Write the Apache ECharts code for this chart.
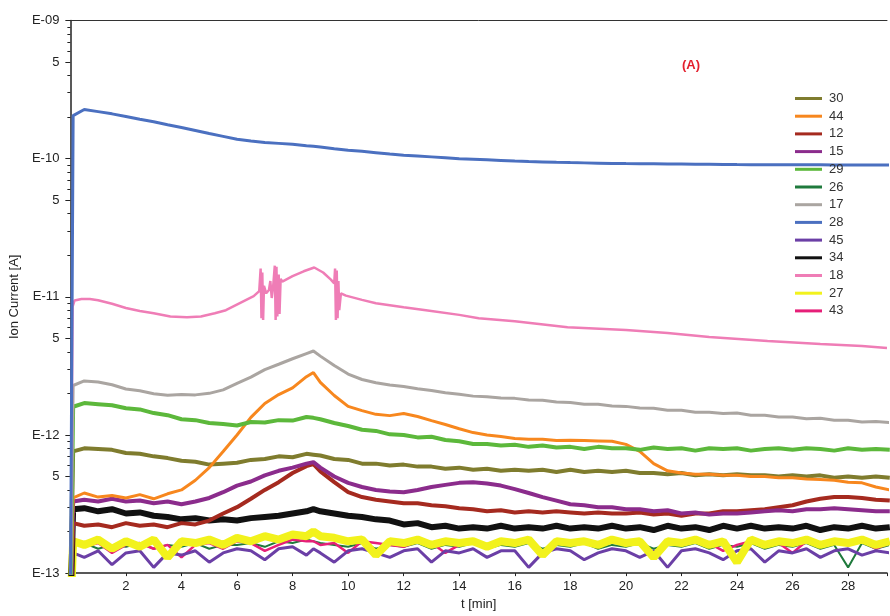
<!DOCTYPE html>
<html><head><meta charset="utf-8">
<script src="https://cdn.jsdelivr.net/npm/echarts@6/dist/echarts.min.js"></script>
<style>html,body{margin:0;padding:0;background:#fff}#c{width:890px;height:616px}</style>
</head><body><div id="c"></div>
<script>
// time grid [min]
const T = [0,0.1,0.5,1,1.5,2,2.5,3,3.5,4,
  4.5,5,5.5,6,6.5,7,7.5,8,8.5,8.75,
  9,9.5,10,10.5,11,11.5,12,12.5,13,13.5,
  14,14.5,15,15.5,16,16.5,17,17.5,18,18.5,
  19,19.5,20,20.5,21,21.5,22,22.5,23,23.5,
  24,24.5,25,25.5,26,26.5,27,27.5,28,28.5,
  29,29.5];
// ion currents in pA (1e-12 A)
const m28 = [0.05,205,227,219,211,202,193,185,176,168,
  160,152,145,138,134,131,129,127,124,123,
  121.5,118,115,113,110.5,108,106,104.5,103,101.5,
  100,99,98,97,96,95.3,94.7,94.1,93.6,93.2,
  92.8,92.4,92.1,91.9,91.7,91.5,91.3,91.1,91,90.8,
  90.6,90.5,90.5,90.4,90.4,90.3,90.2,90.1,90,90,
  89.9,89.8];
const m17 = [0.05,2.28,2.46,2.42,2.31,2.15,2.09,1.99,1.94,1.96,
  1.95,2.0,2.12,2.36,2.62,2.97,3.25,3.56,3.88,4.05,
  3.72,3.18,2.76,2.52,2.39,2.30,2.24,2.16,2.10,2.02,
  1.97,1.91,1.89,1.85,1.84,1.79,1.78,1.73,1.72,1.67,
  1.67,1.62,1.61,1.57,1.56,1.51,1.51,1.46,1.46,1.43,
  1.44,1.39,1.39,1.35,1.35,1.31,1.32,1.28,1.28,1.24,
  1.25,1.23];
const m29 = [0.05,1.60,1.70,1.67,1.64,1.56,1.53,1.44,1.39,1.30,
  1.28,1.22,1.20,1.17,1.24,1.23,1.28,1.27,1.35,1.33,
  1.30,1.22,1.16,1.09,1.07,1.01,1.0,0.96,0.97,0.92,
  0.90,0.86,0.86,0.84,0.85,0.82,0.84,0.81,0.82,0.79,
  0.82,0.80,0.80,0.78,0.81,0.79,0.80,0.77,0.80,0.79,
  0.80,0.77,0.79,0.80,0.78,0.80,0.79,0.77,0.80,0.78,
  0.79,0.78];
const m30 = [0.05,0.76,0.80,0.79,0.78,0.74,0.73,0.70,0.68,0.65,
  0.64,0.61,0.62,0.63,0.66,0.67,0.70,0.69,0.73,0.72,
  0.71,0.67,0.66,0.62,0.62,0.60,0.61,0.59,0.59,0.57,
  0.58,0.56,0.57,0.55,0.56,0.55,0.56,0.54,0.56,0.54,
  0.55,0.54,0.55,0.53,0.53,0.52,0.53,0.51,0.52,0.51,
  0.52,0.51,0.51,0.50,0.51,0.50,0.51,0.49,0.50,0.49,
  0.50,0.49];
const m44 = [0.05,0.35,0.38,0.355,0.365,0.35,0.37,0.345,0.375,0.40,
  0.47,0.58,0.76,1.0,1.34,1.69,1.96,2.19,2.64,2.83,
  2.40,1.93,1.61,1.50,1.41,1.38,1.43,1.36,1.27,1.19,
  1.11,1.04,1.0,0.975,0.944,0.93,0.93,0.91,0.915,0.91,
  0.905,0.90,0.855,0.76,0.62,0.55,0.53,0.52,0.52,0.51,
  0.51,0.50,0.50,0.49,0.49,0.48,0.475,0.47,0.455,0.45,
  0.42,0.40];
const m15 = [0.05,0.33,0.34,0.33,0.345,0.33,0.335,0.32,0.33,0.315,
  0.33,0.35,0.385,0.43,0.46,0.51,0.55,0.58,0.62,0.635,
  0.58,0.50,0.45,0.42,0.40,0.39,0.385,0.40,0.42,0.435,
  0.45,0.455,0.445,0.43,0.405,0.38,0.355,0.335,0.315,0.31,
  0.30,0.30,0.29,0.29,0.28,0.285,0.27,0.275,0.265,0.27,
  0.27,0.275,0.28,0.285,0.28,0.29,0.29,0.295,0.29,0.285,
  0.28,0.28];
const m12 = [0.05,0.23,0.22,0.225,0.215,0.23,0.22,0.225,0.215,0.23,
  0.225,0.24,0.27,0.30,0.345,0.40,0.455,0.53,0.595,0.615,
  0.545,0.455,0.385,0.355,0.34,0.33,0.32,0.32,0.31,0.305,
  0.295,0.29,0.28,0.285,0.275,0.28,0.275,0.28,0.275,0.27,
  0.275,0.27,0.27,0.275,0.265,0.27,0.26,0.27,0.27,0.28,
  0.28,0.285,0.29,0.30,0.31,0.33,0.345,0.355,0.355,0.35,
  0.34,0.335];
const m34 = [0.05,0.29,0.295,0.28,0.29,0.27,0.275,0.26,0.255,0.245,
  0.25,0.24,0.245,0.24,0.25,0.255,0.26,0.27,0.28,0.29,
  0.28,0.27,0.26,0.255,0.245,0.24,0.225,0.23,0.215,0.22,
  0.21,0.215,0.21,0.22,0.21,0.215,0.21,0.22,0.21,0.215,
  0.21,0.22,0.21,0.215,0.205,0.22,0.21,0.215,0.205,0.22,
  0.21,0.22,0.21,0.215,0.21,0.22,0.205,0.215,0.21,0.22,
  0.21,0.215];
const m27 = [0.05,0.17,0.16,0.175,0.15,0.17,0.155,0.175,0.13,0.17,
  0.165,0.175,0.16,0.18,0.17,0.185,0.175,0.19,0.185,0.20,
  0.185,0.18,0.17,0.175,0.135,0.17,0.165,0.175,0.16,0.17,
  0.165,0.17,0.155,0.17,0.165,0.175,0.135,0.17,0.165,0.17,
  0.16,0.175,0.165,0.17,0.13,0.17,0.165,0.175,0.16,0.17,
  0.12,0.175,0.16,0.17,0.165,0.175,0.16,0.17,0.165,0.175,
  0.16,0.17];
const m45 = [0.05,0.14,0.13,0.145,0.115,0.14,0.145,0.11,0.14,0.135,
  0.145,0.12,0.14,0.15,0.145,0.125,0.15,0.155,0.135,0.15,
  0.14,0.12,0.145,0.15,0.14,0.13,0.145,0.15,0.12,0.145,
  0.14,0.15,0.13,0.145,0.145,0.11,0.14,0.15,0.145,0.125,
  0.14,0.15,0.145,0.13,0.145,0.11,0.145,0.15,0.14,0.125,
  0.145,0.15,0.12,0.145,0.14,0.15,0.13,0.145,0.15,0.135,
  0.145,0.14];
const m43 = [0.05,0.17,0.155,0.165,0.14,0.16,0.165,0.15,0.16,0.13,
  0.16,0.165,0.15,0.17,0.165,0.145,0.16,0.175,0.17,0.17,
  0.16,0.165,0.14,0.17,0.165,0.16,0.155,0.17,0.165,0.14,
  0.16,0.165,0.155,0.165,0.16,0.17,0.14,0.165,0.16,0.165,
  0.155,0.17,0.16,0.165,0.135,0.165,0.16,0.17,0.165,0.145,
  0.16,0.17,0.165,0.165,0.14,0.17,0.16,0.165,0.16,0.17,
  0.15,0.165];
const m26 = [0.05,0.16,0.165,0.15,0.16,0.155,0.165,0.15,0.16,0.155,
  0.165,0.15,0.16,0.16,0.165,0.155,0.17,0.165,0.175,0.17,
  0.165,0.16,0.155,0.165,0.15,0.16,0.155,0.165,0.15,0.16,
  0.155,0.165,0.15,0.16,0.155,0.165,0.15,0.16,0.155,0.165,
  0.15,0.16,0.155,0.165,0.15,0.16,0.155,0.165,0.15,0.16,
  0.155,0.165,0.15,0.16,0.155,0.165,0.15,0.16,0.11,0.165,
  0.15,0.16];
// m/z 18 has its own time points (spikes)
const p18 = [[0,0.05],[0.08,8.5],[0.15,9.4],[0.4,9.65],[0.7,9.65],[1,9.45],[1.5,8.9],[2,8.3],[2.5,7.9],[3,7.6],
  [3.6,7.2],[4.2,7.1],[4.7,7.2],[5.2,7.6],[5.6,8.0],[6.1,9.0],[6.6,10.1],[6.8,11.0],[6.85,16],[6.88,7.0],
  [6.91,15],[6.94,6.8],[6.97,12],[7.05,10.6],[7.15,11.2],[7.2,13],[7.25,9.8],[7.3,11.8],[7.36,16.8],[7.39,6.8],
  [7.42,16.5],[7.45,7.2],[7.5,14.5],[7.53,7.5],[7.57,13.5],[7.63,12.9],[8.0,14.1],[8.4,15.3],[8.78,16.3],[9.1,15.0],
  [9.38,13.3],[9.5,12.5],[9.53,16],[9.56,6.8],[9.59,15.5],[9.62,7.0],[9.65,13],[9.68,8],[9.74,10.6],[9.92,10.2],
  [10.5,9.5],[11,8.98],[12,8.4],[12.8,8.0],[14,7.4],[14.7,7.0],[16,6.66],[17.9,6.03],[20,5.75],[21.5,5.47],
  [23,5.12],[25.1,4.79],[27,4.55],[28.5,4.4],[29.4,4.26]];

const legendNames = ['30','44','12','15','29','26','17','28','45','34','18','27','43'];
const yMajor = [0.1,0.5,1,5,10,50,100,500,1000];
const yMajorLabels = ['E-13','5','E-12','5','E-11','5','E-10','5','E-09'];
const yMinor = [0.2,0.3,0.4,0.6,0.7,0.8,0.9,2,3,4,6,7,8,9,20,30,40,60,70,80,90,200,300,400,600,700,800,900];

const byName = {'28':m28,'17':m17,'29':m29,'30':m30,'44':m44,'15':m15,'12':m12,'34':m34,'27':m27,'45':m45,'43':m43,'26':m26};
// drawing order (bottom -> top) and styles
const styles = [
  ['26','#1f7a3c',2],['43','#e61f78',2.5],['45','#6b3fa6',3],['27','#f2f21c',8],
  ['34','#111111',6],['12','#a52a1f',4],['15','#8b2c8c',4],['30','#7f7c2e',4],
  ['44','#f7871e',3],['29','#5cb83b',4],['17','#aaa5a1',3],['18','#ef7db6',2.5],['28','#4b70c0',3]
];
const FONT = 'Liberation Sans, Arial, sans-serif';
const series = styles.map(([n,c,w]) => ({
  name: n, type: 'line', showSymbol: false, symbol: 'none',
  data: n === '18' ? p18 : T.map((t,i) => [t, byName[n][i]]),
  lineStyle: {color: c, width: w}, itemStyle: {color: c},
  clip: true, animation: false
}));
const chart = echarts.init(document.getElementById('c'), null, {renderer:'canvas'});
chart.setOption({
  backgroundColor: '#fff',
  animation: false,
  title: {text: '(A)', left: 677, top: 54, textStyle: {color:'#e3202e', fontSize: 13, fontWeight:'bold', fontFamily: FONT}},
  legend: {orient:'vertical', left: 790, top: 87, itemWidth: 27, itemHeight: 3, itemGap: 4.7, icon: 'rect',
    data: legendNames, textStyle: {fontSize: 13, color:'#333', fontFamily: FONT, padding:[0,0,0,2]}},
  grid: {left: 70, right: 0, top: 20.5, bottom: 39.5, containLabel: false},
  xAxis: [
    {type:'value', min:0, max:29.4, interval:2, position:'bottom',
     axisLine:{show:true, lineStyle:{color:'#222', width:1.5}},
     axisTick:{show:true, length:3, lineStyle:{color:'#222'}},
     axisLabel:{formatter: v => (v > 0 && v % 2 === 0) ? String(v) : '', fontSize:13, color:'#222', margin:7, fontFamily: FONT},
     splitLine:{show:false},
     name:'t [min]', nameLocation:'middle', nameGap:23, nameTextStyle:{fontSize:13, color:'#222', fontFamily: FONT}},
    {type:'value', min:0, max:29.4, position:'top',
     axisLine:{show:true, lineStyle:{color:'#333', width:1}}, axisTick:{show:false}, axisLabel:{show:false}, splitLine:{show:false}}
  ],
  yAxis: [
    {type:'log', logBase:10, min:0.1, max:1000, position:'left',
     axisLine:{show:true, lineStyle:{color:'#222', width:1.5}},
     axisTick:{show:true, customValues: yMajor, length:5, lineStyle:{color:'#222'}},
     axisLabel:{customValues: yMajor, fontSize:13, color:'#222', margin:11, fontFamily: FONT,
       formatter: v => { for (let i=0;i<yMajor.length;i++){ if (Math.abs(Math.log10(v)-Math.log10(yMajor[i]))<1e-6) return yMajorLabels[i]; } return ''; }},
     splitLine:{show:false}, minorTick:{show:false},
     name:'Ion Current [A]', nameLocation:'middle', nameGap:45, nameTextStyle:{fontSize:13, color:'#222', fontFamily: FONT}},
    {type:'log', logBase:10, min:0.1, max:1000, position:'left',
     axisLine:{show:false}, axisTick:{show:true, customValues: yMinor, length:3, lineStyle:{color:'#222'}},
     axisLabel:{show:false}, splitLine:{show:false}}
  ],
  series: series
});
</script></body></html>
